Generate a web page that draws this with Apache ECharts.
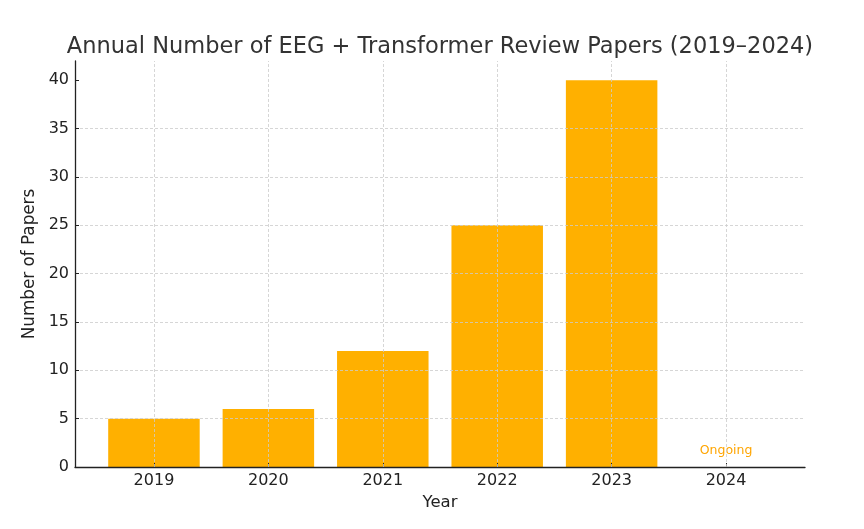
<!DOCTYPE html>
<html>
<head>
<meta charset="utf-8">
<script src="https://cdn.jsdelivr.net/npm/echarts@6/dist/echarts.min.js"></script>
<style>html,body{margin:0;padding:0;background:#fff;}#c{width:864px;height:529px;}</style>
</head>
<body>
<div id="c"></div>
<script>
const years = ['2019', '2020', '2021', '2022', '2023', '2024'];
const papers = [5, 6, 12, 25, 40, 0];
const notes = ['', '', '', '', '', 'Ongoing'];
const yTicks = [0, 5, 10, 15, 20, 25, 30, 35, 40];

const chart = echarts.init(document.getElementById('c'));
const font = 'DejaVu Sans';
const gridStyle = { color: '#cccccc', type: [3, 2], width: 0.8 };
const data = papers.map((v, i) => ({
  value: [i, v],
  label: notes[i] ? { show: true, formatter: notes[i], position: 'top', distance: 10, color: '#FFA500', fontSize: 12.5, fontFamily: font } : { show: false }
}));

chart.setOption({
  animation: false,
  backgroundColor: '#ffffff',
  title: {
    text: 'Annual Number of EEG + Transformer Review Papers (2019\u20132024)',
    left: 435, top: 31, textAlign: 'center',
    textStyle: { fontFamily: font, fontSize: 22.5, fontWeight: 'normal', color: '#333333' }
  },
  grid: { left: 75, right: 59, top: 61, bottom: 62, containLabel: false },
  xAxis: {
    type: 'value', min: -0.69, max: 5.69, z: 5,
    name: 'Year', nameLocation: 'middle', nameGap: 27,
    nameTextStyle: { fontFamily: font, fontSize: 16.5, color: '#222' },
    axisLine: { show: true, onZero: false, lineStyle: { color: '#222', width: 1.3 } },
    axisTick: { show: true, inside: true, length: 4, customValues: years.map((_, i) => i), lineStyle: { color: '#222' } },
    axisLabel: { customValues: years.map((_, i) => i), formatter: v => years[Math.round(v)], fontFamily: font, fontSize: 16, color: '#222', margin: 6 },
    splitLine: { show: false }
  },
  yAxis: {
    type: 'value', min: 0, max: 42, interval: 5, z: 5,
    name: 'Number of Papers', nameLocation: 'middle', nameGap: 30,
    nameTextStyle: { fontFamily: font, fontSize: 16.8, color: '#222' },
    axisLine: { show: true, onZero: false, lineStyle: { color: '#222', width: 1.3 } },
    axisTick: { show: true, inside: true, length: 4, customValues: yTicks, lineStyle: { color: '#222' } },
    axisLabel: { customValues: yTicks, fontFamily: font, fontSize: 16, color: '#222', margin: 6 },
    splitLine: { show: true, showMaxLine: false, lineStyle: gridStyle }
  },
  series: [{
    type: 'bar',
    data: data,
    barWidth: 91.5,
    itemStyle: { color: '#FFB000' },
    markLine: {
      silent: true, symbol: 'none', label: { show: false },
      lineStyle: gridStyle, z: 10,
      data: years.map((_, i) => ({ xAxis: i }))
    }
  }]
});
</script>
</body>
</html>
